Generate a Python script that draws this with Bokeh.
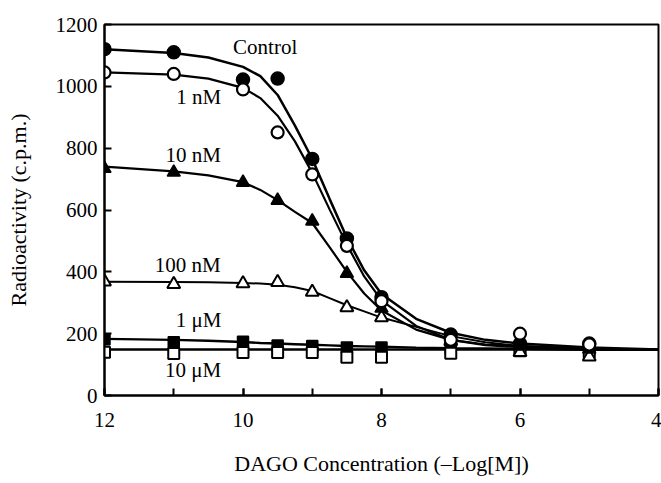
from bokeh.plotting import figure
from bokeh.models import Range1d, SingleIntervalTicker, ColumnDataSource
from bokeh.core.properties import value
from bokeh.embed import file_html
from bokeh.resources import INLINE

# measured points, x = -log[DAGO]
x_pts = [12, 11, 10, 9.5, 9, 8.5, 8, 7, 6, 5]
control = [1120, 1110, 1022, 1025, 765, 508, 318, 197, 168, 168]
nm1 = [1045, 1040, 990, 851, 715, 484, 305, 180, 200, 165]
nm10 = [734, 722, 689, 631, 564, 395, 282, 180, 160, 150]
nm100 = [368, 360, 362, 366, 335, 285, 252, 175, 140, 125]
um1 = [182, 172, 174, 162, 160, 155, 155, 152, 150, 150]
um10 = [140, 136, 139, 139, 139, 124, 124, 137, 145, 140]

# fitted curves
xc = [12, 11, 10.5, 10, 9.75, 9.5, 9.25, 9, 8.75, 8.5, 8.25, 8, 7.5, 7, 6.5, 6, 5, 4]
control_fit = [1120, 1108, 1093, 1063, 1033, 972, 873, 765, 636, 510, 405, 328, 248, 203, 180, 168, 155, 149]
nm1_fit = [1045, 1038, 1025, 995, 962, 905, 822, 720, 602, 488, 385, 308, 225, 180, 165, 160, 152, 148]
nm10_fit = [740, 725, 712, 690, 665, 632, 594, 558, 480, 400, 330, 275, 213, 180, 163, 156, 150, 148]
nm100_fit = [368, 367, 366, 364, 362, 358, 350, 338, 315, 292, 272, 252, 222, 192, 172, 160, 151, 148]
um1_fit = [183, 180, 177, 173, 170, 168, 166, 164, 162, 160, 159, 158, 155, 153, 152, 151, 150, 148]
um10_fit = [149, 149, 149, 149, 149, 149, 149, 149, 149, 149, 149, 149, 149, 149, 149, 149, 148, 148]

series_labels = ["Control", "1 nM", "10 nM", "100 nM", "1 \u03bcM", "10 \u03bcM"]
label_x = [9.68, 10.64, 10.72, 10.8, 10.64, 10.72]
label_y = [1126, 966, 777, 421, 243, 81]

FONT = "Liberation Serif"

p = figure(width=661, height=483, output_backend="svg", toolbar_location=None,
           x_range=Range1d(12, 4), y_range=Range1d(0, 1200),
           min_border_left=104, min_border_right=3, min_border_top=24, min_border_bottom=88)

p.xgrid.visible = False
p.ygrid.visible = False
p.outline_line_color = "black"
p.outline_line_width = 2
p.background_fill_color = "white"
p.border_fill_color = "white"

p.xaxis.ticker = SingleIntervalTicker(interval=2, num_minor_ticks=2)
p.yaxis.ticker = SingleIntervalTicker(interval=200, num_minor_ticks=0)

for ax in (p.xaxis[0], p.yaxis[0]):
    ax.axis_line_width = 2
    ax.axis_line_color = "black"
    ax.major_tick_in = 7
    ax.major_tick_out = 0
    ax.minor_tick_in = 7
    ax.minor_tick_out = 0
    ax.major_tick_line_width = 2
    ax.minor_tick_line_width = 2
    ax.major_label_text_font = FONT
    ax.major_label_text_font_size = "21px"
    ax.major_label_text_color = "black"
    ax.axis_label_text_font = FONT
    ax.axis_label_text_font_size = "22px"
    ax.axis_label_text_font_style = "normal"
    ax.axis_label_text_color = "black"

p.yaxis.minor_tick_line_color = None
p.xaxis.axis_label = "DAGO Concentration (\u2013Log[M])"
p.yaxis.axis_label = "Radioactivity (c.p.m.)"
p.xaxis.major_label_standoff = 17
p.xaxis.axis_label_standoff = 21
p.yaxis.major_label_standoff = 7
p.yaxis.axis_label_standoff = 22

# curves
for fit, lw in [(control_fit, 2.5), (nm1_fit, 2.2), (nm10_fit, 2.2), (nm100_fit, 2), (um1_fit, 2.4), (um10_fit, 2.4)]:
    p.line(xc, fit, line_color="black", line_width=lw)

# markers
p.scatter(x_pts, um1, marker="square", size=11, fill_color="black", line_color="black", line_width=1.5)
p.scatter(x_pts, um10, marker="square", size=11, fill_color="white", line_color="black", line_width=2)
p.scatter(x_pts, nm100, marker="triangle", size=13, fill_color="white", line_color="black", line_width=2)
p.scatter(x_pts, nm10, marker="triangle", size=13, fill_color="black", line_color="black", line_width=1.5)
p.scatter(x_pts, control, marker="circle", size=13, fill_color="black", line_color="black", line_width=1.5)
p.scatter(x_pts, nm1, marker="circle", size=12, fill_color="white", line_color="black", line_width=2.2)

src = ColumnDataSource(dict(x=label_x, y=label_y, t=series_labels))
p.text(x="x", y="y", text="t", source=src, text_font=value(FONT), text_font_size="21px",
       text_align="center", text_baseline="middle", text_color="black")

open("out.html", "w").write(file_html(p, INLINE))
